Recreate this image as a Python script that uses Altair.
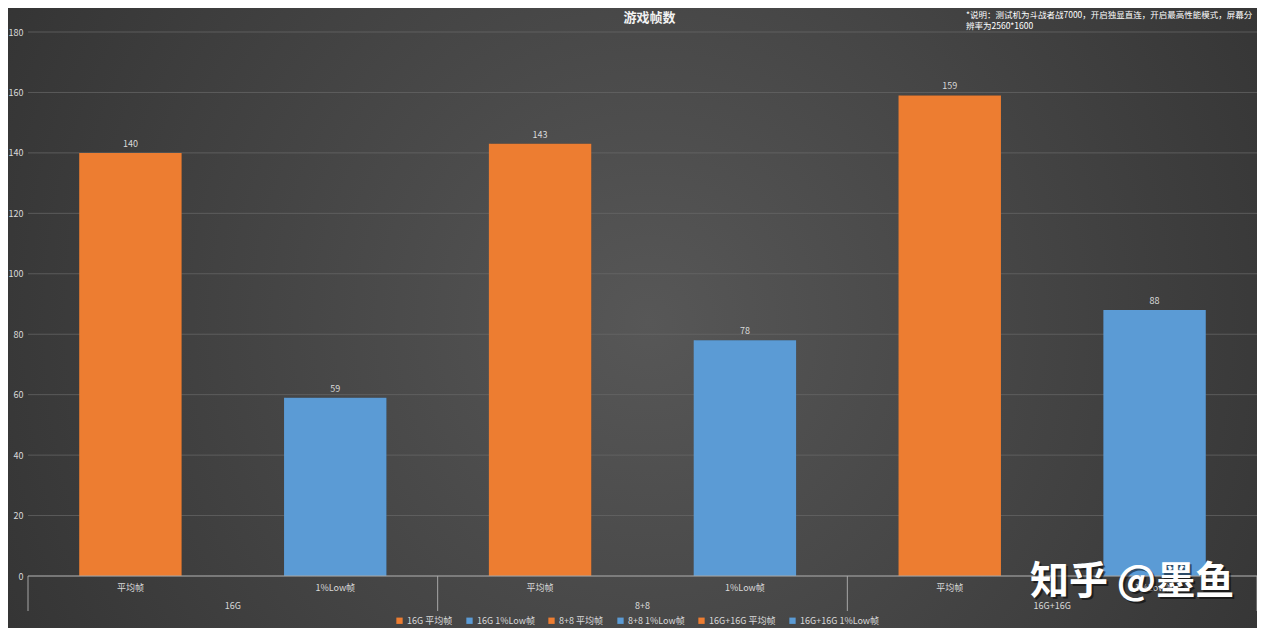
import altair as alt
import pandas as pd

# ---- data ----
groups = ["16G", "8+8", "16G+16G"]
metrics = ["平均帧", "1%Low帧"]
values = [140, 59, 143, 78, 159, 88]
series = ["16G 平均帧", "16G 1%Low帧", "8+8 平均帧", "8+8 1%Low帧",
          "16G+16G 平均帧", "16G+16G 1%Low帧"]
series_colors = ["#ED7D31", "#5B9BD5", "#ED7D31", "#5B9BD5", "#ED7D31", "#5B9BD5"]
y_ticks = [0, 20, 40, 60, 80, 100, 120, 140, 160, 180]
title_text = "游戏帧数"
note_lines = ["*说明：测试机为斗战者战7000，开启独显直连，开启最高性能模式，屏幕分",
              "辨率为2560*1600"]
watermark = "知乎 @墨鱼"

W, H = 1229, 544
FONT = "Noto Sans CJK SC"
TXT = "#d9d9d9"

rows = []
for i, v in enumerate(values):
    rows.append({"pos": i, "x0": i + 0.25, "x1": i + 0.75, "xc": i + 0.5,
                 "value": v, "series": series[i], "metric": metrics[i % 2],
                 "group": groups[i // 2]})
df = pd.DataFrame(rows)
gdf = pd.DataFrame({"gx": [2 * k + 1 for k in range(len(groups))], "group": groups})
ddf = pd.DataFrame({"dx": [2 * k for k in range(len(groups) + 1)]})

xs = alt.Scale(domain=[0, 6], nice=False, zero=False)
ys = alt.Scale(domain=[0, 180], nice=False)

bg = alt.Chart(pd.DataFrame({"a": [0]})).mark_rect(
    fill={"gradient": "radial", "x1": 0.5, "y1": 0.5, "r1": 0,
          "x2": 0.5, "y2": 0.5, "r2": 0.72,
          "stops": [{"offset": 0, "color": "#575757"},
                    {"offset": 1, "color": "#2a2a2a"}]}
).encode(x=alt.value(-28), x2=alt.value(W + 40), y=alt.value(-32), y2=alt.value(H + 70))

grid = alt.Chart(pd.DataFrame({"t": y_ticks})).mark_rule(
    color="#6a6a6a", strokeWidth=1, opacity=0.7
).encode(
    y=alt.Y("t:Q", scale=ys,
            axis=alt.Axis(values=y_ticks, title=None, domain=False, ticks=False,
                          grid=False, labelColor=TXT, labelFontSize=9,
                          labelFont=FONT, labelPadding=5, zindex=2)),
)

base_line = alt.Chart(pd.DataFrame({"t": [0]})).mark_rule(
    color="#a6a6a6", strokeWidth=1
).encode(y=alt.Y("t:Q", scale=ys))

shadow = alt.Chart(df).mark_bar(color="#000000", opacity=0.25, xOffset=2).encode(
    x=alt.X("x0:Q", scale=xs, axis=None), x2="x1:Q",
    y=alt.Y("value:Q", scale=ys), y2=alt.datum(0),
)

bars = alt.Chart(df).mark_bar().encode(
    x=alt.X("x0:Q", scale=xs, axis=None), x2="x1:Q",
    y=alt.Y("value:Q", scale=ys), y2=alt.datum(0),
    color=alt.Color("series:N",
                    scale=alt.Scale(domain=series, range=series_colors),
                    legend=alt.Legend(title=None, orient="none", direction="horizontal",
                                      legendX=367, legendY=584, columns=6,
                                      symbolType="square", symbolSize=40,
                                      symbolStrokeWidth=0, labelFontSize=9,
                                      labelFont=FONT, labelColor=TXT,
                                      columnPadding=12, labelOffset=3, zindex=2)),
)

bar_labels = alt.Chart(df).mark_text(
    baseline="bottom", dy=-4, fontSize=9, font=FONT, color=TXT
).encode(x=alt.X("xc:Q", scale=xs), y=alt.Y("value:Q", scale=ys), text="value:Q")

dividers = alt.Chart(ddf).mark_rule(color="#a6a6a6", strokeWidth=1).encode(
    x=alt.X("dx:Q", scale=xs), y=alt.value(H), y2=alt.value(H + 35)
)

sub_labels = alt.Chart(df).mark_text(
    baseline="middle", fontSize=9, font=FONT, color=TXT
).encode(x=alt.X("xc:Q", scale=xs), y=alt.value(H + 12), text="metric:N")

group_labels = alt.Chart(gdf).mark_text(
    baseline="middle", fontSize=9, font=FONT, color=TXT
).encode(x=alt.X("gx:Q", scale=xs), y=alt.value(H + 30), text="group:N")

title = alt.Chart(pd.DataFrame({"t": [title_text]})).mark_text(
    fontSize=13, fontWeight="bold", font=FONT, color="#f2f2f2", baseline="middle"
).encode(x=alt.value(W / 2 + 7), y=alt.value(-14), text="t:N")

note = alt.Chart(pd.DataFrame({"t": [0]})).mark_text(
    fontSize=8.5, font=FONT, color="#ffffff", align="left", baseline="middle",
    lineHeight=11
).encode(x=alt.value(938), y=alt.value(-17), text=alt.value(note_lines))

wm_shadow = alt.Chart(pd.DataFrame({"t": [watermark]})).mark_text(
    fontSize=39, font=FONT, fontWeight="bold", color="#000000", opacity=0.5,
    align="left", baseline="middle"
).encode(x=alt.value(1004), y=alt.value(H + 8), text="t:N")

wm = alt.Chart(pd.DataFrame({"t": [watermark]})).mark_text(
    fontSize=39, font=FONT, fontWeight="bold", color="#ffffff",
    align="left", baseline="middle"
).encode(x=alt.value(1002), y=alt.value(H + 6), text="t:N")

chart = alt.layer(
    bg, grid, shadow, bars, base_line, bar_labels, dividers, sub_labels,
    group_labels, title, note, wm_shadow, wm
).properties(
    width=W, height=H,
    autosize=alt.AutoSizeParams(type="none"),
    padding={"left": 20, "top": 24, "right": 0, "bottom": 52},
    background="#2e2e2e",
).configure_view(stroke=None)

chart.save("out.html", embed_options={"renderer": "svg", "actions": False})
